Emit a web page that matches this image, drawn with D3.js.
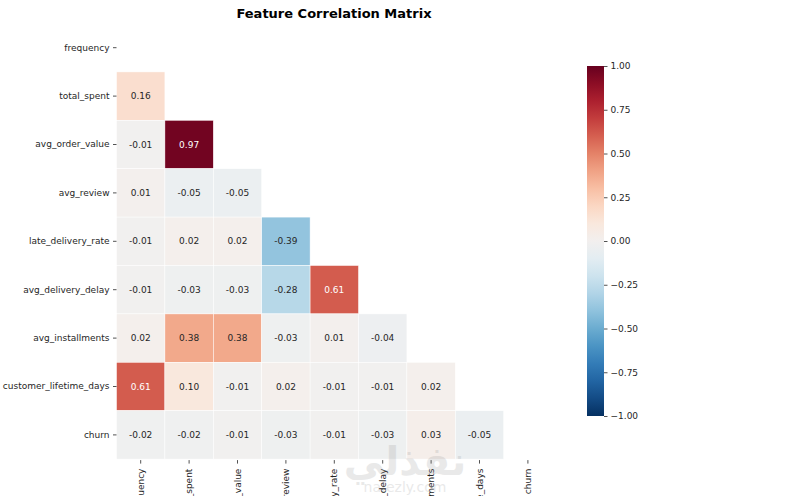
<!DOCTYPE html>
<html>
<head>
<meta charset="utf-8">
<script src="https://cdn.jsdelivr.net/npm/d3@7"></script>
<style>
  body { margin: 0; background: #fff; }
  svg { font-family: "DejaVu Sans", sans-serif; }
</style>
</head>
<body>
<svg id="chart" width="810" height="496"></svg>
<script>
// feature names (rows and columns)
const features = ["frequency", "total_spent", "avg_order_value", "avg_review",
  "late_delivery_rate", "avg_delivery_delay", "avg_installments",
  "customer_lifetime_days", "churn"];

// lower triangle values, row by row (row i has i values)
const rowTotalSpent = [0.16];
const rowAvgOrderValue = [-0.01, 0.97];
const rowAvgReview = [0.01, -0.05, -0.05];
const rowLateDeliveryRate = [-0.01, 0.02, 0.02, -0.39];
const rowAvgDeliveryDelay = [-0.01, -0.03, -0.03, -0.28, 0.61];
const rowAvgInstallments = [0.02, 0.38, 0.38, -0.03, 0.01, -0.04];
const rowCustomerLifetime = [0.61, 0.10, -0.01, 0.02, -0.01, -0.01, 0.02];
const rowChurn = [-0.02, -0.02, -0.01, -0.03, -0.01, -0.03, 0.03, -0.05];

const colorbarTicks = [1.0, 0.75, 0.5, 0.25, 0.0, -0.25, -0.5, -0.75, -1.0];

const lowerRows = [[], rowTotalSpent, rowAvgOrderValue, rowAvgReview, rowLateDeliveryRate,
  rowAvgDeliveryDelay, rowAvgInstallments, rowCustomerLifetime, rowChurn];

const cells = [];
lowerRows.forEach((vals, i) => {
  vals.forEach((v, j) => cells.push({ row: features[i], col: features[j], value: v }));
});

const svg = d3.select("#chart");

// heatmap area
const gridLeft = 116.5, gridTop = 23.5, gridSize = 435.6;

const x = d3.scaleBand().domain(features).range([gridLeft, gridLeft + gridSize]);
const y = d3.scaleBand().domain(features).range([gridTop, gridTop + gridSize]);

// RdBu reversed, -1..1
const color = v => d3.interpolateRdBu((1 - v) / 2);

const textColor = v => {
  const c = d3.rgb(color(v));
  const lum = 0.2126 * Math.pow(c.r / 255, 2.2) + 0.7152 * Math.pow(c.g / 255, 2.2) + 0.0722 * Math.pow(c.b / 255, 2.2);
  return lum > 0.408 ? "#262626" : "#ffffff";
};

svg.append("text")
  .attr("x", 334)
  .attr("y", 18)
  .attr("text-anchor", "middle")
  .attr("font-size", "13px")
  .attr("font-weight", "bold")
  .attr("fill", "#000")
  .text("Feature Correlation Matrix");

svg.append("g").selectAll("rect")
  .data(cells)
  .enter()
  .append("rect")
  .attr("x", d => x(d.col))
  .attr("y", d => y(d.row))
  .attr("width", x.bandwidth())
  .attr("height", y.bandwidth())
  .attr("fill", d => color(d.value))
  .attr("stroke", "#fff")
  .attr("stroke-width", 0.5);

svg.append("g").selectAll("text")
  .data(cells)
  .enter()
  .append("text")
  .attr("x", d => x(d.col) + x.bandwidth() / 2)
  .attr("y", d => y(d.row) + y.bandwidth() / 2)
  .attr("dy", "0.35em")
  .attr("text-anchor", "middle")
  .attr("font-size", "9px")
  .attr("fill", d => textColor(d.value))
  .text(d => d.value.toFixed(2));

// y axis
const yAxis = svg.append("g")
  .attr("transform", `translate(${gridLeft},0)`)
  .call(d3.axisLeft(y).tickSize(3.5).tickPadding(3.5));
yAxis.select(".domain").remove();
yAxis.selectAll("text").attr("font-size", "9px").attr("fill", "#262626")
  .attr("font-family", "DejaVu Sans");
yAxis.selectAll("line").attr("stroke", "#262626").attr("stroke-width", 0.8);

// x axis, rotated labels (they run off the bottom, as in the original)
const xAxis = svg.append("g")
  .attr("transform", `translate(0,${gridTop + gridSize + 1})`)
  .call(d3.axisBottom(x).tickSize(3.5).tickPadding(3.5));
xAxis.select(".domain").remove();
xAxis.selectAll("line").attr("stroke", "#262626").attr("stroke-width", 0.8);
xAxis.selectAll("text")
  .attr("font-size", "9px")
  .attr("fill", "#262626")
  .attr("font-family", "DejaVu Sans")
  .attr("text-anchor", "end")
  .attr("transform", "rotate(-90)")
  .attr("x", -8.5)
  .attr("y", 0)
  .attr("dy", "0.35em");

// colorbar
const cbX = 587, cbW = 17, cbTop = 66, cbBottom = 416;
const cbScale = d3.scaleLinear().domain([-1, 1]).range([cbBottom, cbTop]);

const defs = svg.append("defs");
const grad = defs.append("linearGradient")
  .attr("id", "cbgrad")
  .attr("x1", 0).attr("y1", 1).attr("x2", 0).attr("y2", 0);
d3.range(0, 1.0001, 0.05).forEach(t => {
  grad.append("stop")
    .attr("offset", t)
    .attr("stop-color", color(t * 2 - 1));
});

svg.append("rect")
  .attr("x", cbX)
  .attr("y", cbTop)
  .attr("width", cbW)
  .attr("height", cbBottom - cbTop)
  .attr("fill", "url(#cbgrad)");

const cbAxis = svg.append("g")
  .attr("transform", `translate(${cbX + cbW},0)`)
  .call(d3.axisRight(cbScale).tickValues(colorbarTicks).tickSize(3.5).tickPadding(3)
    .tickFormat(d => (d < 0 ? "\u2212" : "") + Math.abs(d).toFixed(2)));
cbAxis.select(".domain").remove();
cbAxis.selectAll("text").attr("font-size", "9px").attr("fill", "#262626")
  .attr("font-family", "DejaVu Sans");
cbAxis.selectAll("line").attr("stroke", "#262626").attr("stroke-width", 0.8);

// watermark
svg.append("text")
  .attr("x", 405)
  .attr("y", 475)
  .attr("text-anchor", "middle")
  .attr("font-size", "40px")
  .attr("font-weight", "bold")
  .attr("fill", "#888")
  .attr("opacity", 0.18)
  .text("نفذلي");
svg.append("text")
  .attr("x", 405)
  .attr("y", 492)
  .attr("text-anchor", "middle")
  .attr("font-size", "14px")
  .attr("fill", "#888")
  .attr("opacity", 0.18)
  .text("nafezly.com");
</script>
</body>
</html>
